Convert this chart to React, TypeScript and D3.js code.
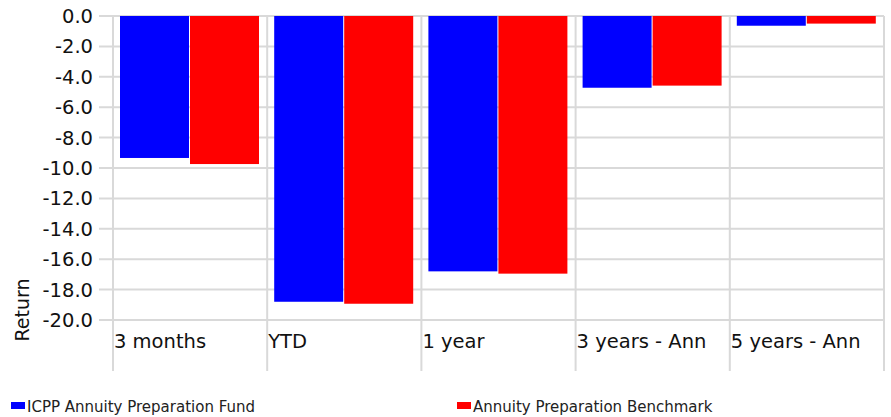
import React from "react";
import * as d3 from "d3";

const categories = ["3 months", "YTD", "1 year", "3 years - Ann", "5 years - Ann"];
const seriesNames = ["ICPP Annuity Preparation Fund", "Annuity Preparation Benchmark"];
const fundValues = [-9.34, -18.8, -16.8, -4.72, -0.64];
const benchValues = [-9.74, -18.93, -16.95, -4.58, -0.5];
const seriesColors = ["#0000ff", "#ff0000"];
const yTicks = [0, -2, -4, -6, -8, -10, -12, -14, -16, -18, -20];

const W = 891;
const H = 417;
const FONT = "Verdana, 'DejaVu Sans', sans-serif";

export default function App() {
  const x = d3.scaleBand<string>().domain(categories).range([113, 884]);
  const x1 = d3.scaleBand<string>().domain(seriesNames).range([7, 147]);
  const y = d3.scaleLinear().domain([0, -20]).range([16, 320]);
  const values = [fundValues, benchValues];
  const grid = "#d9d9d9";
  const fmt = (t: number) => d3.format(".1f")(t).replace("\u2212", "-");

  return (
    <svg
      width={W}
      height={H}
      style={{ position: "fixed", left: 0, top: 0, background: "#fff" }}
      fontFamily={FONT}
    >
      {yTicks.map((t) => (
        <line key={"h" + t} x1={99} x2={884} y1={y(t)} y2={y(t)} stroke={grid} strokeWidth={2} />
      ))}
      {[...categories.map((c) => x(c)!), 884].map((vx, i) => (
        <line key={"v" + i} x1={vx} x2={vx} y1={y(0)} y2={371} stroke={grid} strokeWidth={2} />
      ))}
      {categories.map((c, ci) =>
        seriesNames.map((s, si) => {
          const v = values[si][ci];
          return (
            <rect
              key={c + s}
              x={x(c)! + x1(s)!}
              y={y(0)}
              width={x1.bandwidth() - 1}
              height={y(v) - y(0)}
              fill={seriesColors[si]}
            />
          );
        })
      )}
      {yTicks.map((t) => (
        <text
          key={"t" + t}
          x={93}
          y={y(t)}
          dy="0.36em"
          textAnchor="end"
          fontSize={19.5}
          fill="#111"
        >
          {fmt(t)}
        </text>
      ))}
      {categories.map((c) => (
        <text key={"c" + c} x={x(c)! + 1} y={348} fontSize={19.5} fill="#111">
          {c}
        </text>
      ))}
      <text
        transform={`translate(29,310) rotate(-90)`}
        textAnchor="middle"
        fontSize={19}
        fill="#111"
      >
        Return
      </text>
      {seriesNames.map((s, si) => {
        const lx = si === 0 ? 11 : 457;
        return (
          <g key={"l" + s}>
            <rect x={lx} y={402} width={14} height={7} fill={seriesColors[si]} />
            <text x={lx + 16} y={412} fontSize={15} fill="#222">
              {s}
            </text>
          </g>
        );
      })}
    </svg>
  );
}
